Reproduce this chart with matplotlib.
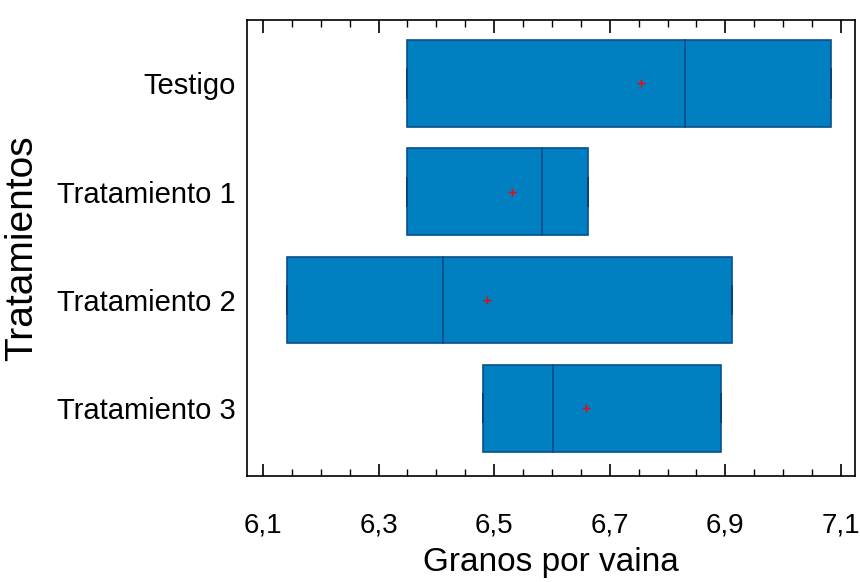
import matplotlib.pyplot as plt
from matplotlib.ticker import FixedLocator, FuncFormatter

# Box plot data
tratamientos = ["Testigo", "Tratamiento 1", "Tratamiento 2", "Tratamiento 3"]
q1 = [6.35, 6.35, 6.141, 6.48]
q3 = [7.082, 6.662, 6.911, 6.892]
mediana = [6.831, 6.582, 6.411, 6.601]
media = [6.754, 6.531, 6.487, 6.658]
xticks = [6.1, 6.3, 6.5, 6.7, 6.9, 7.1]

plt.rcParams["font.family"] = ["Liberation Sans Narrow", "Liberation Sans", "DejaVu Sans"]

fig = plt.figure(figsize=(8.6, 5.82), dpi=100)
ax = fig.add_axes([0.287, 0.182, 0.707, 0.784])

pos = list(range(len(tratamientos)))
fill = "#0080c0"
edge = "#0a4f8c"

widths = [b - a for a, b in zip(q1, q3)]
ax.barh(pos, widths, left=q1, height=0.8, color=fill, edgecolor=edge, linewidth=1.2, zorder=2)

# medians
for y, m in zip(pos, mediana):
    ax.plot([m, m], [y - 0.4, y + 0.4], color=edge, linewidth=1.3, zorder=3)

# small whisker stubs at box ends
for y, a, b in zip(pos, q1, q3):
    ax.plot([a, a], [y - 0.13, y + 0.13], color="#0b3f73", linewidth=1.3, zorder=3)
    ax.plot([b, b], [y - 0.13, y + 0.13], color="#0b3f73", linewidth=1.3, zorder=3)

# means
ax.scatter(media, pos, marker="+", color="red", s=40, linewidths=1.0, zorder=4)

ax.set_xlim(6.072, 7.124)
ax.set_ylim(3.625, -0.588)
ax.set_yticks(pos)
ax.set_yticklabels(tratamientos, fontsize=21)

minor = [6.1 + 0.05 * k for k in range(21)]
ax.xaxis.set_major_locator(FixedLocator(xticks))
ax.xaxis.set_minor_locator(FixedLocator(minor))
ax.xaxis.set_major_formatter(FuncFormatter(lambda v, p: f"{v:.1f}".replace(".", ",")))
ax.tick_params(axis="x", which="major", direction="in", top=True, length=9, width=1.2,
               labelsize=20, pad=26)
ax.tick_params(axis="x", which="minor", direction="in", top=True, length=5, width=1.0)
ax.tick_params(axis="y", length=0, pad=8)

for s in ax.spines.values():
    s.set_linewidth(1.2)

ax.set_xlabel("Granos por vaina", fontsize=24, labelpad=6)
ax.set_ylabel("Tratamientos", fontsize=28, labelpad=12)

fig.savefig("out.png", dpi=100)
